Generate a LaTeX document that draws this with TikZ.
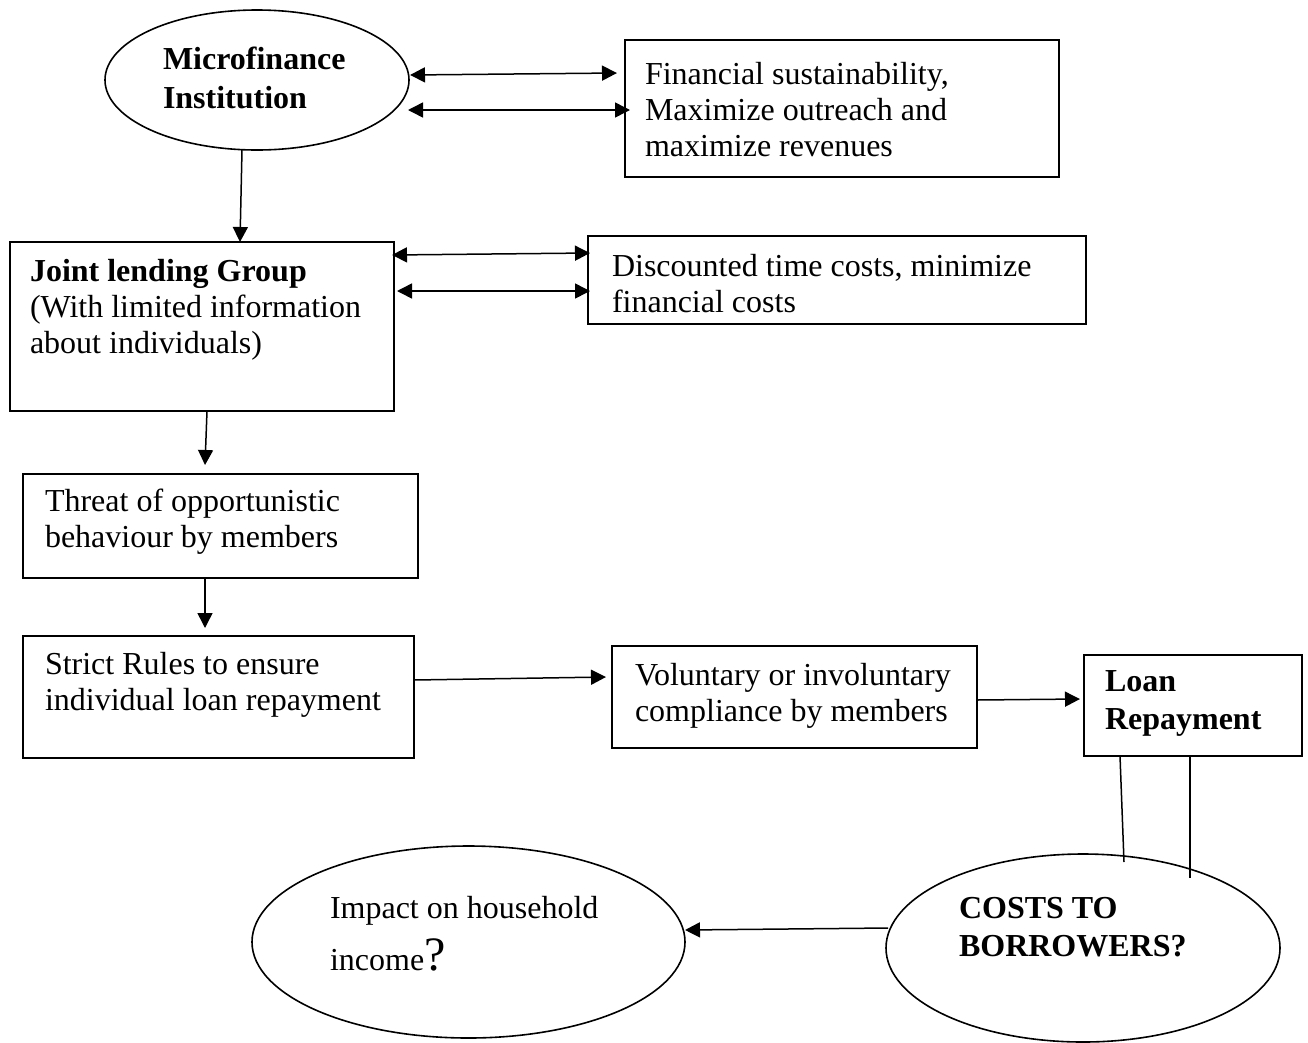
\documentclass[tikz,border=0pt]{standalone}
\usepackage{fontspec}
\setmainfont{Liberation Serif}
\usetikzlibrary{calc,shapes.geometric,arrows.meta}

\begin{document}
\begin{tikzpicture}[x=1pt,y=-1pt,
  line width=1.5pt,
  every node/.style={inner sep=0pt, outer sep=0pt},
  frame/.style={draw, rectangle, line width=1.6pt},
  oval/.style={draw, ellipse, line width=1.6pt},
  txt/.style={anchor=west, align=left, font=\fontsize{32}{36}\selectfont},
  btxt/.style={anchor=west, align=left, font=\fontsize{32}{38}\selectfont\bfseries},
  tip/.style={-{Triangle[length=15pt,width=15pt]}},
  dtip/.style={{Triangle[length=15pt,width=15pt]}-{Triangle[length=15pt,width=15pt]}}
]
\useasboundingbox (0,0) rectangle (1308,1042);

% shapes
\node[oval, minimum width=304pt, minimum height=140pt] (mfi) at (257,80) {};
\node[frame, minimum width=434pt, minimum height=137pt] (fin) at (842,108.5) {};
\node[frame, minimum width=384pt, minimum height=169pt] (jlg) at (202,326.5) {};
\node[frame, minimum width=498pt, minimum height=88pt] (disc) at (837,280) {};
\node[frame, minimum width=395pt, minimum height=104pt] (threat) at (220.5,526) {};
\node[frame, minimum width=391pt, minimum height=122pt] (strict) at (218.5,697) {};
\node[frame, minimum width=365pt, minimum height=102pt] (vol) at (794.5,697) {};
\node[frame, minimum width=218pt, minimum height=101pt] (loan) at (1193,705.5) {};
\node[oval, minimum width=394pt, minimum height=188pt] (cost) at (1083,948) {};
\node[oval, minimum width=433pt, minimum height=192pt] (impact) at (468.5,942) {};

% texts
\node[btxt, font=\fontsize{32}{39}\selectfont\bfseries] (mfiT) at (163,78) {Microfinance\\Institution};
\node[txt] (finT) at (645,110) {Financial sustainability,\\Maximize outreach and\\maximize revenues};
\node[txt] (jlgT) at (30,310) {\textbf{Joint lending Group}\\(With limited information\\about individuals)};
\node[txt] (discT) at (612,284) {Discounted time costs, minimize\\financial costs};
\node[txt] (threatT) at (45,522) {Threat of opportunistic\\behaviour by members};
\node[txt] (strictT) at (45,685) {Strict Rules to ensure\\individual loan repayment};
\node[txt] (volT) at (635,695.5) {Voluntary or involuntary\\compliance by members};
\node[btxt] (loanT) at (1105,703.5) {Loan\\Repayment};
\node[btxt] (costT) at (959,927.5) {COSTS TO\\BORROWERS?};
\node[txt] (impactT) at (330,934) {Impact on household\\[12pt]income{\fontsize{48}{48}\selectfont ?}};

% connectors
\draw[dtip] ($(mfi.east)+(1,-5)$) -- ($(fin.west)+(-8,-35.5)$);
\draw[dtip] ($(mfi.east)+(-1,30)$) -- ($(fin.west)+(5,1.5)$);
\draw[dtip] ($(jlg.east)+(-2,-71.5)$) -- ($(disc.west)+(2,-27)$);
\draw[dtip] ($(jlg.east)+(3,-35.5)$) -- ($(disc.west)+(2,11)$);
\draw[tip] ($(mfi.south)+(-15,0)$) -- ($(jlg.north)+(38,0)$);
\draw[tip] ($(jlg.south)+(5,0)$) -- ($(threat.north)+(-15.5,-9)$);
\draw[tip] ($(threat.south)+(-15.5,0)$) -- ($(strict.north)+(-13.5,-8)$);
\draw[tip] ($(strict.east)+(0,-17)$) -- ($(vol.west)+(-6,-20)$);
\draw[tip] ($(vol.east)+(0,3)$) -- ($(loan.west)+(-4,-6.5)$);
\draw ($(loan.south)+(-73,0)$) -- ($(cost.center)+(41,-86)$);
\draw ($(loan.south)+(-3,0)$) -- ($(cost.center)+(107,-70)$);
\draw[tip] ($(cost.west)+(2,-20)$) -- ($(impact.east)+(0,-12)$);
\end{tikzpicture}
\end{document}
